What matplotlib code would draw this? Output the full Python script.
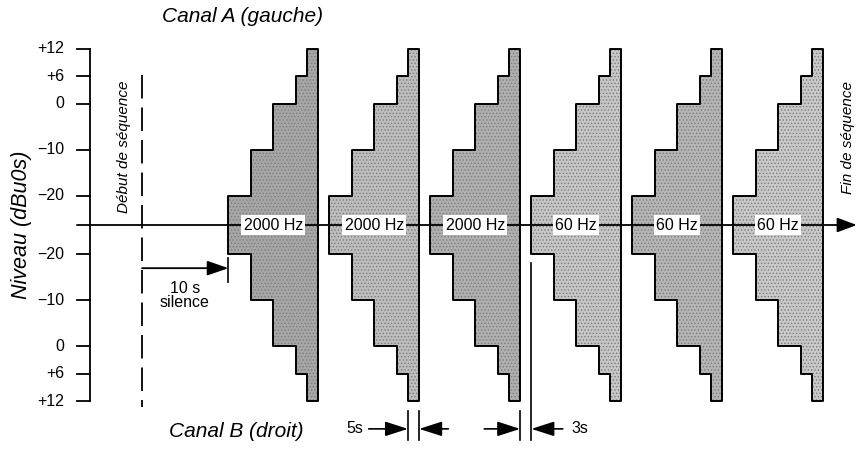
import numpy as np
import matplotlib
matplotlib.use("Agg")
import matplotlib.pyplot as plt

plt.rcParams['font.family'] = ['Liberation Sans', 'DejaVu Sans']
plt.rcParams['hatch.linewidth'] = 0.6

# Sequence definition
levels = [-20, -10, 0, 6, 12]          # dBu0s, step levels
step_dur = [2, 2, 2, 1, 1]             # relative step lengths
freqs = ['2000 Hz', '2000 Hz', '2000 Hz', '60 Hz', '60 Hz', '60 Hz']
block_starts = [7.7, 16.7, 25.7, 34.7, 43.7, 52.7]
block_grays = ['#a6a6a6', '#bdbdbd', '#afafaf', '#c6c6c6', '#b5b5b5', '#c8c8c8']
tick_levels = [12, 6, 0, -10, -20]
tick_labels = ['+12', '+6', '0', '\u221210', '\u221220']

L0 = -26.4          # level drawn on the centre line
def h(level):
    return level - L0

fig = plt.figure(figsize=(8.59, 4.5), dpi=100)
ax = fig.add_axes([0, 0, 1, 1])
ax.set_xlim(-12.66, 63.9)
ax.set_ylim(-49, 49)
ax.axis('off')

# staircase blocks (channel A up, channel B mirrored down)
edges = np.concatenate([[0], np.cumsum(step_dur)])
for x0, gray in zip(block_starts, block_grays):
    top = [(x0, 0)]
    for i, lv in enumerate(levels):
        top.append((x0 + edges[i], h(lv)))
        top.append((x0 + edges[i + 1], h(lv)))
    bottom = [(x, -y) for x, y in top[::-1]]
    poly = np.array(top + bottom)
    ax.fill(poly[:, 0], poly[:, 1], facecolor=gray, edgecolor='#7d7d7d',
            hatch='.....', lw=0, zorder=1)
    ax.plot(poly[:, 0], poly[:, 1], color='k', lw=1.4, zorder=2)

# level axis
ax_x = -4.63
ax.plot([ax_x, ax_x], [h(12), -h(12)], color='k', lw=1.3)
for lv, lab in zip(tick_levels, tick_labels):
    for s in (1, -1):
        ax.plot([ax_x - 1.16, ax_x], [s * h(lv), s * h(lv)], color='k', lw=1.3)
        ax.text(-6.95, s * h(lv), lab, ha='right', va='center', fontsize=11.5)
ax.text(-10.7, 0, 'Niveau (dBu0s)', rotation=90, ha='center', va='center',
        fontsize=15.5, style='italic')

# centre time line with arrow
ax.annotate('', xy=(63.7, 0), xytext=(-5.8, 0),
            arrowprops=dict(arrowstyle='-|>,head_length=1.2,head_width=0.45',
                            color='k', lw=1.3, shrinkA=0, shrinkB=0), zorder=3)
for x0, f in zip(block_starts, freqs):
    ax.text(x0 + edges[-1] / 2, 0, f, ha='center', va='center', fontsize=11.5,
            bbox=dict(boxstyle='square,pad=0.15', fc='white', ec='none'), zorder=4)

# start / end of sequence
ax.plot([0, 0], [h(6) + 0.3, -h(12) - 1.2], color='k', lw=1.3,
        dashes=(13, 5))
ax.text(-1.6, 17, 'Début de séquence', rotation=90, ha='center', va='center',
        fontsize=11, style='italic')
ax.text(62.9, 19, 'Fin de séquence', rotation=90, ha='center', va='center',
        fontsize=11, style='italic')

# 10 s silence
ax.annotate('', xy=(block_starts[0], -9.4), xytext=(0, -9.4),
            arrowprops=dict(arrowstyle='-|>,head_length=1.3,head_width=0.45',
                            color='k', lw=1.3, shrinkA=0, shrinkB=0))
ax.plot([block_starts[0]] * 2, [-7.2, -12.4], color='k', lw=1.2)
ax.text(3.8, -15.3, '10 s\nsilence', ha='center', va='center', fontsize=11.5,
        linespacing=0.95)

# gap annotations
y_ann = -44.4
hs = '-|>,head_length=1.4,head_width=0.45'
x_a = block_starts[1] + edges[4]
x_b = block_starts[1] + edges[5]
for x in (x_a, x_b):
    ax.plot([x, x], [-40.5, -46.8], color='k', lw=1.2)
ax.annotate('', xy=(x_a, y_ann), xytext=(x_a - 3.5, y_ann),
            arrowprops=dict(arrowstyle=hs, color='k', lw=1.2, shrinkA=0, shrinkB=0))
ax.annotate('', xy=(x_b, y_ann), xytext=(x_b + 2.6, y_ann),
            arrowprops=dict(arrowstyle=hs, color='k', lw=1.2, shrinkA=0, shrinkB=0))
ax.text(x_a - 4.7, y_ann, '5s', ha='center', va='center', fontsize=11.5)

x_c = block_starts[2] + edges[5]
x_d = block_starts[3]
ax.plot([x_c, x_c], [-40.5, -46.8], color='k', lw=1.2)
ax.plot([x_d, x_d], [-8.3, -46.8], color='k', lw=1.2)
ax.annotate('', xy=(x_c, y_ann), xytext=(x_c - 3.2, y_ann),
            arrowprops=dict(arrowstyle=hs, color='k', lw=1.2, shrinkA=0, shrinkB=0))
ax.annotate('', xy=(x_d, y_ann), xytext=(x_d + 2.8, y_ann),
            arrowprops=dict(arrowstyle=hs, color='k', lw=1.2, shrinkA=0, shrinkB=0))
ax.text(x_d + 4.3, y_ann, '3s', ha='center', va='center', fontsize=11.5)

# channel titles
ax.text(9.0, 45.5, 'Canal A (gauche)', ha='center', va='center', fontsize=15,
        style='italic')
ax.text(8.4, -45.0, 'Canal B (droit)', ha='center', va='center', fontsize=15,
        style='italic')

fig.savefig('out.png', dpi=100)
